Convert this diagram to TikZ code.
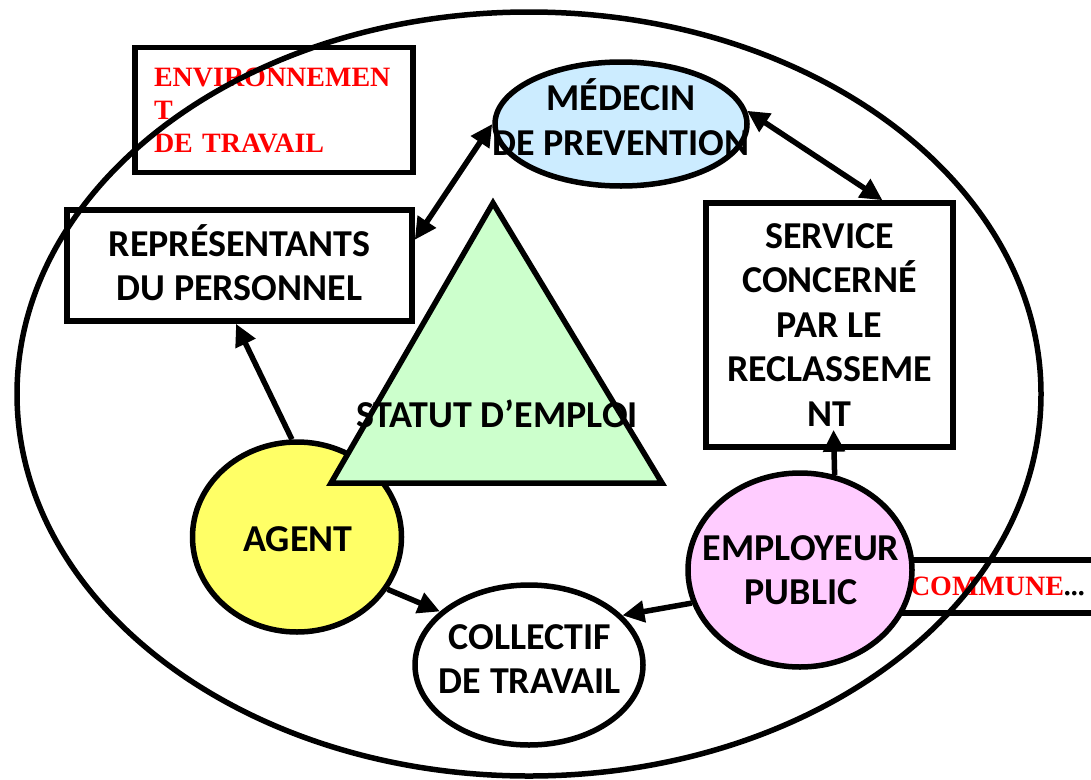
\documentclass[tikz,border=0pt]{standalone}
\usepackage{fontspec}
\setmainfont{Carlito}
\newfontfamily\serifb{Liberation Serif}
\usetikzlibrary{arrows.meta,shapes.geometric,calc}
\definecolor{agentY}{HTML}{FFFF66}
\definecolor{statG}{HTML}{CCFFCC}
\definecolor{medB}{HTML}{CCECFF}
\definecolor{empP}{HTML}{FFCCFF}
\definecolor{redT}{HTML}{FF0000}
\begin{document}
\begin{tikzpicture}[x=1pt,y=-1pt,
  lbl/.style={font=\bfseries\fontsize{38}{44.5}\selectfont, align=center, inner sep=0pt},
  box/.style={draw, line width=5.5pt, rectangle, inner sep=0pt},
  oval/.style={draw, line width=5.5pt, ellipse, inner sep=0pt},
  arr/.style={line width=5.5pt, -{Triangle[length=22pt,width=21pt]}},
  darr/.style={line width=5.5pt, {Triangle[length=22pt,width=21pt]}-{Triangle[length=22pt,width=21pt]}},
  redlbl/.style={font=\serifb\bfseries\fontsize{28}{33}\selectfont, text=redT, align=left}
]
\useasboundingbox (0,0) rectangle (1091,779);
\clip (0,0) rectangle (1091,779);
\fill[white] (0,0) rectangle (1091,779);

% boxes under the frame
\node[box, redlbl, minimum width=250pt, minimum height=53pt, text width=190pt,
      font=\serifb\bfseries\fontsize{28}{30}\selectfont] (commune) at (1005,586.5)
      {COMMUNE{\color{black}...}};
\node[box, redlbl, minimum width=278pt, minimum height=125pt, text width=240pt] (env) at (274,110)
      {ENVIRONNEMEN\\T\\DE TRAVAIL};

% outer frame
\node[oval, minimum width=1024pt, minimum height=764pt] (frame) at (529,394) {};

% other boxes
\node[box, minimum width=345pt, minimum height=111pt] (rep) at (239.5,265.5) {};
\node[lbl] (reptxt) at (239.5,262.5) {REPRÉSENTANTS\\DU PERSONNEL};
\node[box, minimum width=247pt, minimum height=244pt] (svc) at (829.5,325) {};
\node[lbl] (svctxt) at (829.5,325) {SERVICE\\CONCERNÉ\\PAR LE\\RECLASSEME\\NT};

% ovals
\node[oval, fill=medB, minimum width=252pt, minimum height=124pt] (med) at (621,124) {};
\node[lbl] (medtxt) at (621,117) {MÉDECIN\\DE PREVENTION};
\node[oval, fill=agentY, minimum width=209pt, minimum height=190pt] (agent) at (297,537) {};
\node[lbl] (agenttxt) at (298,539) {AGENT};
\node[oval, fill=empP, minimum width=224pt, minimum height=194pt] (emp) at (800,570) {};
\node[lbl] (emptxt) at (801,570) {EMPLOYEUR\\PUBLIC};
\node[oval, fill=white, minimum width=228pt, minimum height=160pt] (coll) at (529,665) {};
\node[lbl] (colltxt) at (530,659) {COLLECTIF\\DE TRAVAIL};

% triangle
\draw[line width=5.5pt, fill=statG, line join=miter] (493,203) -- (662,483) -- (331,483) -- cycle;
\node[lbl] (statut) at (497,414) {STATUT D’EMPLOI};

% connectors
\draw[arr] (agent.93) -- ($(rep.south west)!0.49!(rep.south east)$);
\draw[darr] ($(rep.north east)!0.28!(rep.south east)$) -- (med.west);
\draw[darr] (med.6) -- ($(svc.north west)!0.71!(svc.north east)$);
\draw[arr] (emp.70) -- ($(svc.south)+(4,-20)$);
\draw[arr] (agent.-30) -- (coll.149);
\draw[arr] (emp.197) -- (coll.28);
\end{tikzpicture}
\end{document}
